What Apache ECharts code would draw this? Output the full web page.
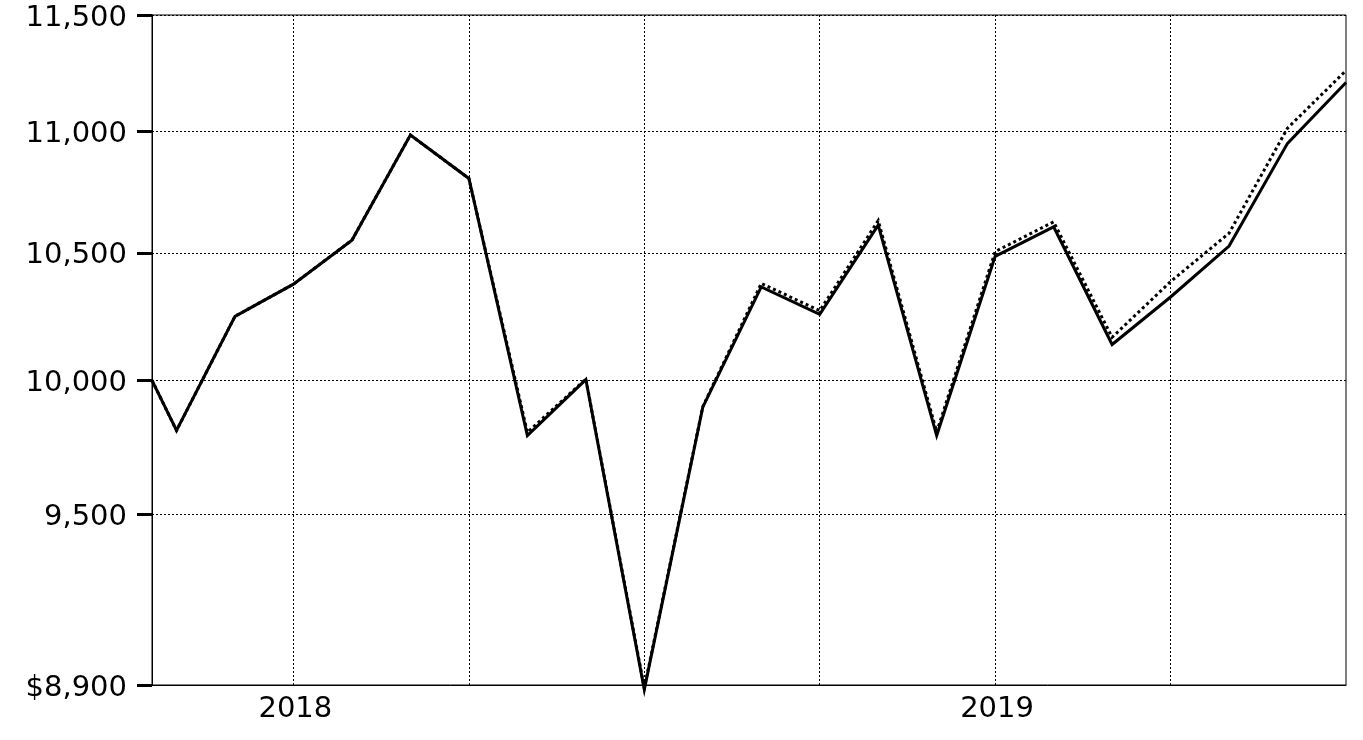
<!DOCTYPE html>
<html>
<head>
<meta charset="utf-8">
<script src="https://cdn.jsdelivr.net/npm/echarts@6/dist/echarts.min.js"></script>
<style>
html,body{margin:0;padding:0;background:#fff;}
#chart{width:1363px;height:740px;}
</style>
</head>
<body>
<div id="chart"></div>
<script>
// Dates of the observations (month ends, first is the start date)
const dates = ['2017-10-18','2017-10-31','2017-11-30','2017-12-31','2018-01-31','2018-02-28','2018-03-31',
  '2018-04-30','2018-05-31','2018-06-30','2018-07-31','2018-08-31','2018-09-30','2018-10-31','2018-11-30',
  '2018-12-31','2019-01-31','2019-02-28','2019-03-31','2019-04-30','2019-05-31','2019-06-30'];
// Solid line series
const fundValues = [10000, 9810, 10248, 10375, 10551, 10984, 10803, 9791, 10003, 8885, 9898, 10364, 10256,
  10612, 9791, 10486, 10605, 10138, 10324, 10527, 10949, 11207];
// Dotted line series
const indexValues = [10000, 9810, 10248, 10375, 10551, 10984, 10803, 9803, 10005, 8890, 9900, 10378, 10270,
  10630, 9805, 10505, 10625, 10166, 10385, 10579, 11013, 11258];
// Y tick labels
const yTicks = [8900, 9500, 10000, 10500, 11000, 11500];
// Vertical grid lines (quarter ends) and year labels
const gridDates = ['2017-12-31','2018-03-31','2018-06-30','2018-09-30','2018-12-31','2019-03-31'];
const yearLabelDates = ['2018-01-01','2019-01-01'];

// month-based position (equal spacing per month)
function monthPos(s){
  const p = s.split('-').map(Number);
  const dim = new Date(p[0], p[1], 0).getDate();
  return (p[0]-2017)*12 + (p[1]-1) + p[2]/dim;
}
const xs = dates.map(monthPos);
const fundData = xs.map((x,i)=>[x, fundValues[i]]);
const indexData = xs.map((x,i)=>[x, indexValues[i]]);

const font = 'DejaVu Sans';
const chart = echarts.init(document.getElementById('chart'), null, {renderer:'canvas'});
chart.setOption({
  animation:false,
  backgroundColor:'#fff',
  grid:{left:152, right:17, top:15, bottom:55, show:true, borderColor:'#000', borderWidth:1, containLabel:false},
  xAxis:{
    type:'value',
    min: xs[0], max: xs[xs.length-1],
    axisLine:{show:true, lineStyle:{color:'#000', width:1}},
    axisTick:{show:false, customValues: gridDates.map(monthPos)},
    splitLine:{show:true, lineStyle:{color:'#000', width:1, type:[2,2]}},
    axisLabel:{
      customValues: yearLabelDates.map(monthPos),
      formatter: v => String(2017 + Math.floor(v/12)),
      color:'#000', fontFamily:font, fontSize:29, margin:10
    }
  },
  yAxis:{
    type:'log', logBase:10,
    min: yTicks[0], max: yTicks[yTicks.length-1],
    axisLine:{show:true, lineStyle:{color:'#000', width:1}},
    axisTick:{show:true, length:15, lineStyle:{color:'#000', width:3}, customValues: yTicks},
    splitLine:{show:true, lineStyle:{color:'#000', width:1, type:[2,2]}},
    axisLabel:{
      customValues: yTicks,
      formatter: v => '{t|' + (v === yTicks[0] ? '$' : '') + Math.round(v).toLocaleString('en-US') + '}',
      rich:{t:{color:'#000', fontFamily:font, fontSize:29, padding:[6,0,0,0]}},
      color:'#000', fontFamily:font, fontSize:29, margin:25
    }
  },
  series:[
    {type:'line', data:indexData, symbol:'none', clip:false, z:3,
     lineStyle:{color:'#000', width:3, type:[3,3], join:'miter'}},
    {type:'line', data:fundData, symbol:'none', clip:false, z:4,
     lineStyle:{color:'#000', width:3, join:'miter'}}
  ]
});
</script>
</body>
</html>
